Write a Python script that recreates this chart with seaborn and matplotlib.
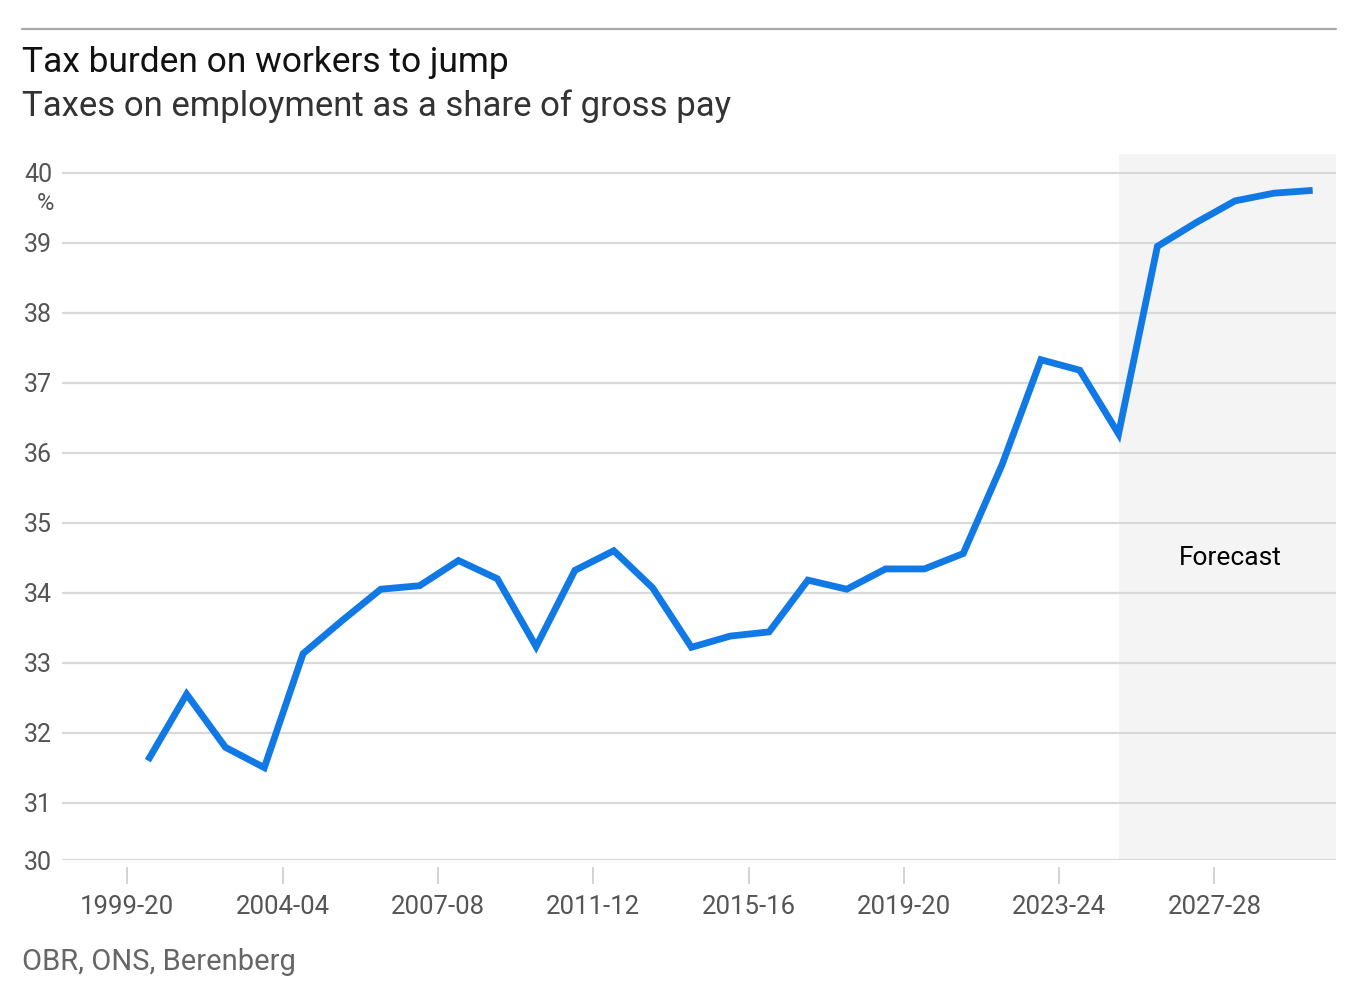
import numpy as np
import pandas as pd
import seaborn as sns
import matplotlib
matplotlib.use('Agg')
from matplotlib import pyplot as plt

# fiscal years by start year, 1999-00 .. 2029-30
fy_start = list(range(1999, 2030))
share = [31.6, 32.55, 31.79, 31.5, 33.13, 33.6, 34.05, 34.1, 34.46, 34.2, 33.23,
         34.32, 34.6, 34.07, 33.22, 33.38, 33.44, 34.18, 34.05, 34.34, 34.34, 34.56,
         35.83, 37.33, 37.18, 36.27, 38.95, 39.29, 39.6, 39.71, 39.75]
forecast_from = 2024

tick_years = [1999, 2003, 2007, 2011, 2015, 2019, 2023, 2027]
tick_labels = ['1999-20', '2004-04', '2007-08', '2011-12', '2015-16', '2019-20', '2023-24', '2027-28']
y_labels = ['30', '31', '32', '33', '34', '35', '36', '37', '38', '39', '40']

title = 'Tax burden on workers to jump'
subtitle = 'Taxes on employment as a share of gross pay'
source = 'OBR, ONS, Berenberg'

sns.set_style('white')
plt.rcParams['font.family'] = ['Roboto', 'DejaVu Sans']

df = pd.DataFrame({'year': np.array(fy_start) + 0.53, 'share': share})

fig = plt.figure(figsize=(13.66, 9.88), dpi=100)
ax = fig.add_axes([62/1366, 1-860/988, (1336-62)/1366, (860-154)/988])

for s in ax.spines.values():
    s.set_visible(False)
ax.spines['bottom'].set_position(('outward', 5))

x_right = 2030.13
ax.axvspan(forecast_from + 0.53, x_right, color='#f4f4f4', zorder=0, lw=0)

sns.lineplot(data=df, x='year', y='share', ax=ax, color='#1079e6', lw=4.9,
             solid_joinstyle='miter', solid_capstyle='butt', zorder=5)

ax.set_xlim(1997.32, x_right)
ax.set_ylim(30.18, 40.27)
yt = [30.18] + list(range(31, 41))
ax.set_yticks(yt)
ax.set_yticklabels(y_labels, fontsize=18, color='#555555')
ax.set_xticks(tick_years)
ax.set_xticklabels(tick_labels, fontsize=18.5, color='#555555')
ax.tick_params(axis='y', left=False, length=0, pad=7)
ax.tick_params(axis='x', bottom=True, length=12.5, width=1.2, color='#cccccc', pad=8)
ax.yaxis.grid(True, color='#d9d9d9', lw=1.6)
ax.set_axisbelow(True)
ax.set_xlabel('')
ax.set_ylabel('')

ax.text(2027.4, 34.5, 'Forecast', fontsize=19, color='#000000',
        ha='center', va='center')

fig.text(45/1366, 1-203/988, '%', fontsize=17, color='#555555',
         ha='center', va='center')
fig.text(22/1366, 1-72/988, title, fontsize=25.5, color='#111111', ha='left', va='baseline')
fig.text(22/1366, 1-116/988, subtitle, fontsize=25, color='#333333', ha='left', va='baseline')
fig.text(22/1366, 1-970/988, source, fontsize=21, color='#666666', ha='left', va='baseline')
fig.add_artist(plt.Line2D([22/1366, 1336/1366], [1-29/988, 1-29/988], color='#aaaaaa', lw=1.6))

plt.savefig('out.png', dpi=100)
